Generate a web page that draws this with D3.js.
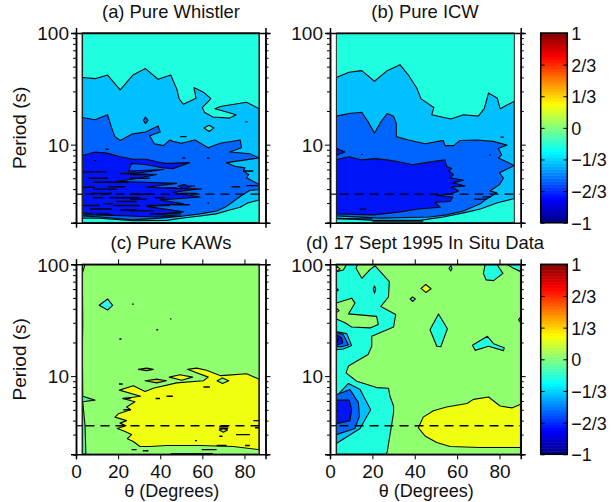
<!DOCTYPE html>
<meta charset="utf-8">
<style>
  body { margin: 0; background: #fff; }
  text { font-family: "Liberation Sans", Arial, sans-serif; fill: #111; }
</style>
<body>
<script src="https://d3js.org/d3.v7.min.js"></script>
<script>
// contour outlines, as [theta in degrees, period in s]
const whistlerL1 = [[3,40],[9,39],[15,42],[21,31],[27,42],[33,48],[39,38.5],[45,42],[48,31],[49,25.7],[51,23],[57,26],[56,32.5],[60.5,29.5],[64,26],[63,24.5],[60,21.5],[61,19.5],[65,17.7],[73,17.3],[76,18.5],[71.5,19.6],[66,21],[68.5,22],[81,24],[87,21],[87,3.2],[81.5,3],[78,2.75],[73,2.6],[66.5,2.4],[59,2.3],[51,2.2],[43,2.1],[27,2.08],[11,2.2],[3,2.2]];
const whistlerL2 = [[3,17.5],[9,16.7],[15,18.5],[17,14],[18.5,11.8],[21,10.9],[27,12.5],[33,13],[39,14.7],[40,13],[35,12],[37.2,10.2],[41.5,9.8],[44.6,11],[46,10.7],[50,10.3],[56.5,11],[62.8,9.4],[68.4,10.3],[78,11],[78.6,9.4],[73,8.6],[82.6,8.3],[87,7.6],[71.5,6.9],[75.5,6.4],[80.3,6.2],[79.5,5.8],[82,5.4],[81,5.05],[87,4.4],[87,3.95],[82.6,3.9],[78.6,3.5],[74.7,3.1],[71.5,2.8],[66.8,2.55],[58.9,2.4],[51,2.3],[40,2.2],[27,2.12],[11.4,2.25],[3,2.3]];
const whistlerL3 = [[3,8],[9,8.6],[14.6,8.4],[21,7.8],[27,7.4],[33.5,7.4],[39,7],[43,6.8],[54,6.9],[46,6.1],[41.5,6.2],[33.5,6.6],[26.4,6.8],[25,5.8],[41.5,6],[30.4,5.6],[21,5.5],[38.3,5.4],[27,4.9],[19.3,4.7],[47.8,4.5],[33.5,4.15],[57.3,4],[46,3.75],[58.9,3.4],[40,3.2],[51,2.95],[33.5,2.8],[51,2.5],[38.3,2.38],[50,2.28],[38.3,2.25],[11.4,2.35],[3,2.45]];
const whistlerIsland = [[48.6,4.25],[51.3,4.4],[54.4,4.2],[51.3,4.05]];
const whistlerDiamond = [[32,16.5],[33,17.7],[34.2,16.5],[33,15.4]];
const whistlerPale = [[60.8,14.1],[63.2,14.9],[65.5,14.1],[63.2,13.1]];
const whistlerStripes = [[3,14.6,5.7],[5.9,15.3,5],[8.2,24.8,4.6],[15.3,23.3,4.2],[3.5,9,4.15],[8.2,19.3,4],[7.4,17,3.65],[8.2,13,3.35],[16,30.4,3.35],[19.3,28.8,3.1],[13,17.7,2.95],[3.5,11.4,2.85],[17.7,30.4,2.85],[6.6,17,2.65],[20.9,28.8,2.6],[9.8,16,2.4],[3.5,17.7,2.35],[25.6,33.5,5.4],[25.6,35,5],[43,47.8,4.1],[25.6,35,3.6],[37.5,42.2,3.35],[49.4,57.3,3.65],[25.6,33.5,3.25],[46.2,54,2.9],[33.5,44.6,2.85],[25.6,36.7,2.55],[35,50,2.4],[54,56.5,4.25],[81,86.5,4.3],[73.9,77.8,4.2],[54,59.7,4],[79.4,84.2,5.8],[49.5,52.5,11.8],[14,15.5,9.1],[50.5,52,7.6],[62.2,63.4,7.6],[80.4,81.6,16],[8.6,9.6,7.2],[62.5,63.2,3]];

const icwL1 = [[3,40],[9,44.5],[15,46],[21,37],[27,46],[33,52],[37,42],[41,32],[43,25.7],[49,21.5],[48,18.5],[57,17],[63,18.5],[70,18],[72.8,21],[74.8,29],[79,26],[80.3,21],[87,24.5],[87,3.3],[78.7,3],[71,2.65],[63,2.45],[53.5,2.25],[42.5,2.1],[20.5,2.1],[3,2.2]];
const icwL2 = [[3,18],[9,19],[15,19.5],[18,16],[21,12.7],[24,16],[27,19],[30,18],[31.3,15.5],[31.3,11.8],[37,11],[45,10.2],[51,10.7],[53.5,10.9],[54.3,9.8],[58.3,9.8],[61.4,10.9],[69.3,11],[77,10.7],[83.5,9.9],[79.5,9.3],[81,8.1],[79.5,7.6],[87,6.5],[80,5.6],[81.9,5],[80,4.4],[75.6,3.85],[78.7,3.7],[73.2,3.2],[70.9,2.95],[63,2.55],[55,2.35],[47,2.25],[23.6,2.2],[3,2.3]];
const icwL3 = [[3,7.35],[9,7.8],[15,7.3],[21,7.5],[27,7.3],[33,7],[39,6.6],[45,6.9],[54.3,7.3],[55,6.4],[57.5,6.1],[56,5.8],[58.3,5.4],[56.7,5.05],[63,4.8],[58,4.55],[63.8,4.25],[57.5,4.2],[60.6,3.85],[56.7,3.6],[50.4,3.5],[58,3.4],[56.7,3.1],[49.6,3.05],[52,2.75],[41.7,2.65],[33,2.5],[20.5,2.35],[3,2.4]];
const icwPatch = [[3,9.3],[7,8.6],[3,8]];
const icwStripes = [[14,17,2.65],[80.5,82,11.7],[14.6,15.4,8.2],[75.2,76,8.1],[3,20,2.16],[20,44,2.07],[68,74,3.25],[72,76,3.4]];

const kawLeft = [[3,100],[4.3,100],[3,83],[3.2,28],[3,18.5],[3.2,6.6],[9,6.1],[3.2,5.9],[4.3,3.6],[4.7,2],[3,2]];
const kawDiamond = [[11,43],[15,49],[17.4,43],[15,39]];
const kawYellow = [[52.9,11.5],[57.3,11.8],[62,11.3],[68.7,10.1],[72.3,10.2],[81,10.5],[87,9.4],[87,2.2],[74.7,2.35],[58.9,2.4],[43,2.4],[35,2.35],[30.4,2.35],[27.2,2.6],[24.4,2.76],[26.4,3],[23.3,3.2],[19.6,3.4],[23.7,3.6],[20.9,3.8],[24,4],[18.5,4.3],[20.1,4.6],[26,5],[24,5.3],[28,5.9],[22.2,6.3],[30.7,6.6],[20.6,7.5],[27.2,8.2],[32.8,7.3],[36.7,7.8],[47.8,8.7],[60.5,9.1],[62.8,9.8]];
const kawIslandA = [[44.3,9.8],[49.4,10.3],[55.4,9.8],[50.2,9.2]];
const kawIslandB = [[32.8,9.1],[38.3,9.4],[43,9.1],[38.3,8.7]];
const kawIslandC = [[29.6,11.5],[33.6,11.8],[36.7,11.5],[33.6,11.2]];
const kawHole = [[67,9.1],[69.6,9.6],[72.5,9.1],[69.6,8.6]];
const kawLens = [[68,3.3],[70,3.4],[72,3.3],[70,3.15]];
const kawStripes = [[20.4,22.2,8.5],[60.5,63.6,8],[43,46,6.6],[37.8,39.9,6.3],[22.2,26,6.3],[22.5,26,5],[68,72.3,3.55],[68,72.3,3.42],[76,82.6,3],[68,69.6,2.9],[66.8,71.5,2.4],[59.7,66.8,2.2],[80.3,82.6,2.4],[84.2,87,4],[85,87,3.45],[26.4,28.8,2.2],[31.7,34.4,2.15],[56.5,57.5,2.65],[26.6,27.4,44],[38.2,39,26],[20.6,21.6,21.5],[44.7,45.3,32.5],[45,65,2.03]];

const situTurq = [[3,100],[13,100],[12.3,92],[15,75],[19,90],[21.3,97],[28,70],[27.6,51],[24,42],[31,35.5],[30,27.5],[19.7,22.7],[19.7,18.5],[18,15.6],[8.7,12.3],[7.6,10.7],[12.6,9],[22,7.9],[27.6,7.8],[28.3,6.6],[30,5.4],[30,4.7],[27,2.1],[26.5,2],[3,2]];
const situPocket = [[3,45],[10.2,49.8],[11.8,45],[8.7,36],[22,34.2],[22.8,29],[18.9,27],[10.2,27.5],[7.1,30],[3,32.5]];
const situCorner = [[3,100],[7.9,100],[6.3,89],[3,86]];
const situYellowTop = [[3,97],[4.7,91],[3,86]];
const situYellowLeft = [[3,40.5],[4.3,38.5],[3,37]];
const situBlueLeft = [[3,61],[4,59],[3,57]];
const situLensA = [[20.4,60],[21,64],[21.6,60],[21,55]];
const situLowL1 = [[3,6.6],[8.7,8.6],[14.2,7.6],[19.2,5],[14.2,3.4],[3,2.5]];
const situLowL2 = [[3,6.8],[9.4,7.6],[13.4,5.8],[13.9,4.4],[11.8,3.4],[3,3]];
const situLowL3 = [[3,6.1],[9.1,6.1],[10.2,5],[9.4,4],[3,3.75]];
const situLowL4 = [[3,5.05],[3.7,4.9],[3,4.7]];
const situUpL1 = [[3,25],[7.9,24],[10.2,18.8],[6.3,17.5],[3,17.2]];
const situUpL2 = [[3,24.6],[6.3,23.5],[8.7,19.1],[5.5,18.3],[3,18.3]];
const situUpL3 = [[3,23.5],[5.5,22],[6,19.9],[3,18.8]];
const situUpL4 = [[3,22.7],[4,21.2],[3,19.9]];
const situDiamond = [[43,61],[45.2,66],[47.7,60.5],[45.2,56]];
const situSmall = [[37.8,49],[39,51],[40.3,49],[39,46.5]];
const situLensB = [[56.2,92],[57,97],[57.6,92],[57,87]];
const situTopRightA = [[73.2,100],[72.4,83],[73.7,72.5],[77.2,71.5],[81.6,83],[78.7,100]];
const situTopRightB = [[83.5,100],[86.6,92],[90,86],[90,100]];
const situBigLens = [[51.2,36],[55.4,26.5],[52.3,18.3],[50.4,18.5],[47.2,26]];
const situArm = [[67.2,18.9],[74.3,22.7],[77.2,19.5],[82.2,17.9],[81.9,16.9],[74.8,18.5],[68.5,17]];
const situRightDot = [[90,33.7],[89,32],[90,30]];
const situYellow = [[90,5.6],[85.8,5.2],[80.3,5.4],[74.8,6.5],[67.7,6.2],[64.6,5.7],[55,5.3],[48.8,4.9],[44,4.3],[41.7,3.45],[45,2.9],[50.4,2.55],[56.7,2.35],[70.9,2.3],[90,2.3]];

const dashPeriod = 3.6;
const majorPeriods = [100, 10];
const minorPeriods = [90,80,70,60,50,40,30,20,9,8,7,6,5,4,3,2];
const thetaTicks = [0,20,40,60,80];
const barTicks = [1, 2/3, 1/3, 0, -1/3, -2/3, -1];
const barLabels = ["1","2/3","1/3","0","\u22121/3","\u22122/3","\u22121"];
const jetValues = [-1,-0.75,-0.25,0.25,0.75,1];
const jetColors = ["#000080","#0000ff","#00ffff","#ffff00","#ff0000","#800000"];

// level colours
const turq = "#1fffdf", sky = "#00c0ff", mid = "#0064ff", deep = "#0014f8", navy = "#0000c8",
      green = "#90ff70", yellow = "#f0ff10", teal = "#48f0a0", olive = "#c8c820", aqua = "#30f4ee";

const svg = d3.select("body").append("svg").attr("width", 614).attr("height", 502);

const panels = [
  {title:"(a) Pure Whistler", tx:171, left:76, right:265.5, top:33, bottom:222.7, bg:turq, x0:3, x1:87, xAxis:false,
   layers:[[whistlerL1,sky],[whistlerL2,mid],[whistlerL3,deep],[whistlerIsland,deep],[whistlerDiamond,mid],[whistlerPale,turq]],
   stripes:whistlerStripes, sw:1.4},
  {title:"(b) Pure ICW", tx:425, left:330, right:520.7, top:33, bottom:222.7, bg:turq, x0:3, x1:87, xAxis:false,
   layers:[[icwL1,sky],[icwL2,mid],[icwL3,deep],[icwPatch,deep]],
   stripes:icwStripes, sw:1.3},
  {title:"(c) Pure KAWs", tx:171, left:76, right:265.5, top:264.3, bottom:454.3, bg:green, x0:3, x1:87, xAxis:true,
   layers:[[kawLeft,teal],[kawDiamond,aqua],[kawYellow,yellow],[kawIslandA,yellow],[kawIslandB,olive],[kawIslandC,olive],[kawHole,green],[kawLens,olive]],
   stripes:kawStripes, sw:1.4},
  {title:"(d) 17 Sept 1995 In Situ Data", tx:425, left:330, right:520.7, top:264.3, bottom:454.3, bg:green, x0:3, x1:90, xAxis:true,
   layers:[[situTurq,turq],[situPocket,green],[situCorner,green],[situYellowTop,yellow],[situYellowLeft,yellow],[situBlueLeft,sky],[situLensA,sky],
     [situLowL1,sky],[situLowL2,mid],[situLowL3,deep],[situLowL4,navy],[situUpL1,sky],[situUpL2,mid],[situUpL3,deep],[situUpL4,navy],
     [situDiamond,yellow],[situSmall,aqua],[situLensB,aqua],[situTopRightA,turq],[situTopRightB,turq],[situBigLens,turq],[situArm,turq],[situRightDot,turq],[situYellow,yellow]],
   stripes:[], sw:1.4}
];

panels.forEach((p, i) => {
  const x = d3.scaleLinear().domain([0, 90]).range([p.left, p.right]);
  const y = d3.scaleLog().domain([2, 100]).range([p.bottom, p.top]);
  const outline = d3.line().x(d => x(d[0])).y(d => y(d[1]));
  const g = svg.append("g");

  const clipId = "clip" + i;
  g.append("clipPath").attr("id", clipId).append("rect")
    .attr("x", x(p.x0)).attr("y", y(100))
    .attr("width", x(p.x1) - x(p.x0)).attr("height", y(2) - y(100));

  const plot = g.append("g").attr("clip-path", "url(#" + clipId + ")");
  plot.append("rect")
    .attr("x", x(p.x0)).attr("y", y(100))
    .attr("width", x(p.x1) - x(p.x0)).attr("height", y(2) - y(100))
    .attr("fill", p.bg);
  p.layers.forEach(l => {
    plot.append("path").attr("d", outline(l[0]) + "Z")
      .attr("fill", l[1]).attr("stroke", "#0a0a0a").attr("stroke-width", 1.1).attr("stroke-linejoin", "round");
  });
  p.stripes.forEach(s => {
    plot.append("path").attr("d", outline([[s[0], s[2]], [s[1], s[2]]]))
      .attr("stroke", "#050515").attr("stroke-width", p.sw).attr("fill", "none");
  });

  // edge of the contoured area
  g.append("rect")
    .attr("x", x(p.x0)).attr("y", y(100))
    .attr("width", x(p.x1) - x(p.x0)).attr("height", y(2) - y(100))
    .attr("fill", "none").attr("stroke", "#222").attr("stroke-width", i === 1 ? 1 : 1.5);

  // dashed reference period
  g.append("path").attr("d", outline([[0, dashPeriod], [p.x0, dashPeriod]]))
    .attr("stroke", "#000").attr("stroke-width", 1.2);
  g.append("path").attr("d", outline([[p.x0 + 1.5, dashPeriod], [90, dashPeriod]]))
    .attr("stroke", "#000").attr("stroke-width", 1.3).attr("stroke-dasharray", "9,6");

  // y axes, left and right
  const addY = (axis, xp, vals, size) => g.append("g")
    .attr("transform", "translate(" + xp + ",0)")
    .call(axis(y).tickValues(vals).tickSize(size).tickFormat(""));
  addY(d3.axisLeft, p.left, minorPeriods, 3);
  addY(d3.axisRight, p.right, minorPeriods, 3);
  addY(d3.axisRight, p.right, majorPeriods, 5);
  const yMajor = g.append("g")
    .attr("transform", "translate(" + p.left + ",0)")
    .call(d3.axisLeft(y).tickValues(majorPeriods).tickSize(5).tickFormat(d3.format("d")));
  yMajor.selectAll("text").attr("font-size", 19).attr("dy", "0.36em").attr("x", -7);

  // x axes, top and bottom
  const xTop = p.xAxis ? thetaTicks : [];
  g.append("g").attr("transform", "translate(0," + p.top + ")")
    .call(d3.axisTop(x).tickValues(xTop).tickSize(5).tickFormat(""));
  const xBottom = g.append("g").attr("transform", "translate(0," + p.bottom + ")")
    .call(d3.axisBottom(x).tickValues(xTop).tickSize(5).tickFormat(d3.format("d")));
  xBottom.selectAll("text").attr("font-size", 19).attr("y", 10).attr("dy", "0.71em");

  g.selectAll(".domain").attr("stroke", "#000").attr("stroke-width", 1.5);
  g.selectAll(".tick line").attr("stroke", "#000").attr("stroke-width", 1);

  g.append("text").attr("x", p.tx).attr("y", p.top - 15.5).attr("text-anchor", "middle")
    .attr("font-size", 18.4).text(p.title);

  if (i % 2 === 0) {
    g.append("text").attr("text-anchor", "middle").attr("font-size", 19)
      .attr("transform", "translate(26," + ((p.top + p.bottom) / 2) + ") rotate(-90)").text("Period (s)");
  }
  if (p.xAxis) {
    g.append("text").attr("x", (p.left + p.right) / 2 + 1).attr("y", 497).attr("text-anchor", "middle")
      .attr("font-size", 18).text("\u03b8 (Degrees)");
  }
});

// colour bars
const jet = d3.scaleLinear().domain(jetValues).range(jetColors);
const bands = d3.range(-1, 1, 2 / 64);
[[33, 222.7], [264.3, 454.3]].forEach(r => {
  const v = d3.scaleLinear().domain([-1, 1]).range([r[1], r[0]]);
  const g = svg.append("g");
  g.selectAll("rect").data(bands).join("rect")
    .attr("x", 540.7).attr("width", 26.6)
    .attr("y", d => v(d + 2 / 64)).attr("height", d => v(d) - v(d + 2 / 64) + 0.5)
    .attr("fill", d => jet(d + 1 / 64));
  g.append("rect").attr("x", 540.7).attr("y", r[0]).attr("width", 26.6).attr("height", r[1] - r[0])
    .attr("fill", "none").attr("stroke", "#000").attr("stroke-width", 1.5);
  const left = g.append("g").attr("transform", "translate(540.7,0)")
    .call(d3.axisRight(v).tickValues(barTicks).tickSize(4).tickFormat(""));
  left.select(".domain").remove();
  const right = g.append("g").attr("transform", "translate(567.3,0)")
    .call(d3.axisLeft(v).tickValues(barTicks).tickSize(4).tickFormat((d, i) => barLabels[i]));
  right.select(".domain").remove();
  right.selectAll("text").attr("x", 4).attr("text-anchor", "start").attr("dy", "0.36em").attr("font-size", 18);
});
</script>
</body>
